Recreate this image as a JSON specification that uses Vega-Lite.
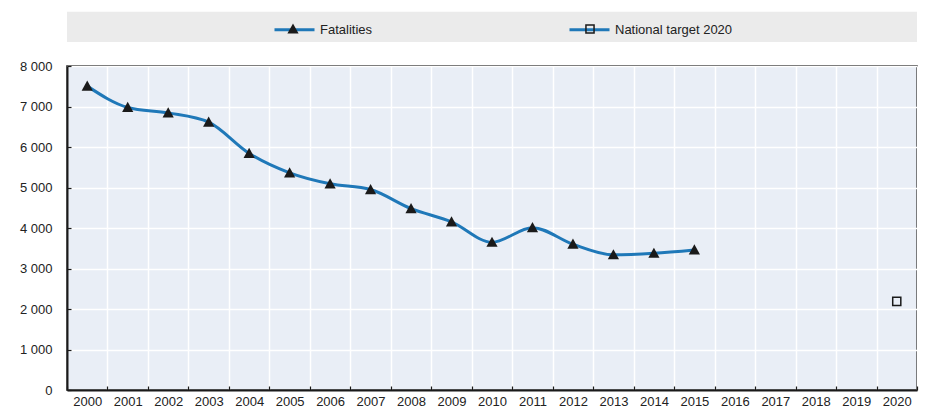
{
  "$schema": "https://vega.github.io/schema/vega-lite/v6.json",
  "width": 850,
  "height": 324,
  "autosize": "none",
  "padding": {"left": 67, "top": 66, "right": 20, "bottom": 22},
  "background": "white",
  "config": {
    "font": "Liberation Sans",
    "view": {"fill": "#e9eef6", "stroke": "#1a1a1a", "strokeWidth": 1.5},
    "axis": {
      "title": null,
      "labelFont": "Liberation Sans",
      "labelFontSize": 13,
      "labelColor": "#222",
      "domainColor": "#1a1a1a",
      "domainWidth": 2,
      "tickColor": "#1a1a1a",
      "tickWidth": 1.2,
      "tickSize": -4,
      "gridColor": "white",
      "gridWidth": 1.5,
      "gridOpacity": 1
    },
    "legend": {
      "title": null,
      "labelFont": "Liberation Sans",
      "labelFontSize": 13,
      "labelColor": "#222",
      "padding": 0
    }
  },
  "data": {
    "values": [
      {"year": "2000", "series": "Fatalities", "marker": "Fatalities", "value": 7503},
      {"year": "2001", "series": "Fatalities", "marker": "Fatalities", "value": 6977},
      {"year": "2002", "series": "Fatalities", "marker": "Fatalities", "value": 6842},
      {"year": "2003", "series": "Fatalities", "marker": "Fatalities", "value": 6613},
      {"year": "2004", "series": "Fatalities", "marker": "Fatalities", "value": 5842},
      {"year": "2005", "series": "Fatalities", "marker": "Fatalities", "value": 5361},
      {"year": "2006", "series": "Fatalities", "marker": "Fatalities", "value": 5091},
      {"year": "2007", "series": "Fatalities", "marker": "Fatalities", "value": 4949},
      {"year": "2008", "series": "Fatalities", "marker": "Fatalities", "value": 4477},
      {"year": "2009", "series": "Fatalities", "marker": "Fatalities", "value": 4152},
      {"year": "2010", "series": "Fatalities", "marker": "Fatalities", "value": 3648},
      {"year": "2011", "series": "Fatalities", "marker": "Fatalities", "value": 4009},
      {"year": "2012", "series": "Fatalities", "marker": "Fatalities", "value": 3600},
      {"year": "2013", "series": "Fatalities", "marker": "Fatalities", "value": 3339},
      {"year": "2014", "series": "Fatalities", "marker": "Fatalities", "value": 3377},
      {"year": "2015", "series": "Fatalities", "marker": "Fatalities", "value": 3459},
      {"year": "2020", "series": "National target 2020", "marker": "National target 2020", "value": 2189}
    ]
  },
  "layer": [
    {
      "data": {"values": [{"part": "legend band"}]},
      "mark": {"type": "rect", "color": "#ebebeb", "clip": false},
      "encoding": {
        "y": {"datum": 8590, "type": "quantitative"},
        "y2": {"datum": 9340}
      }
    },
    {
      "mark": {"type": "line", "interpolate": "monotone", "strokeWidth": 3},
      "encoding": {
        "x": {
          "field": "year",
          "type": "ordinal",
          "scale": {
            "type": "band",
            "paddingInner": 0,
            "paddingOuter": 0,
            "domain": ["2000", "2001", "2002", "2003", "2004", "2005", "2006", "2007", "2008", "2009", "2010", "2011", "2012", "2013", "2014", "2015", "2016", "2017", "2018", "2019", "2020"]
          },
          "axis": {"tickBand": "extent", "labelAngle": 0, "grid": true, "labelPadding": 9}
        },
        "y": {
          "field": "value",
          "type": "quantitative",
          "scale": {"domain": [0, 8000], "nice": false},
          "axis": {
            "values": [0, 1000, 2000, 3000, 4000, 5000, 6000, 7000, 8000],
            "labelExpr": "replace(format(datum.value, ',d'), ',', ' ')",
            "labelPadding": 19,
            "grid": true
          }
        },
        "stroke": {
          "field": "series",
          "type": "nominal",
          "scale": {"range": ["#1f78b8", "#1f78b8"]},
          "legend": {
            "orient": "none",
            "legendX": 206,
            "legendY": -58,
            "direction": "horizontal",
            "symbolType": "stroke",
            "symbolSize": 1600,
            "symbolStrokeWidth": 3,
            "labelOffset": 4,
            "gridAlign": "all",
            "columnPadding": 125
          }
        }
      }
    },
    {
      "mark": {"type": "point", "filled": true, "fill": "#1a1a1a", "fillOpacity": 1, "size": 1600, "strokeWidth": 0, "opacity": 1},
      "encoding": {
        "x": {"field": "year", "type": "ordinal"},
        "y": {"field": "value", "type": "quantitative"},
        "shape": {
          "field": "marker",
          "type": "nominal",
          "scale": {
            "domain": ["Fatalities", "National target 2020"],
            "range": [
              "M-0.28,0.23L0,-0.28L0.28,0.23Z",
              "M-0.24,-0.24H0.24V0.24H-0.24Z M-0.165,-0.165V0.165H0.165V-0.165Z"
            ]
          },
          "legend": {
            "orient": "top",
            "padding": 206,
            "offset": -176,
            "direction": "horizontal",
            "symbolSize": 1600,
            "symbolFillColor": "#1a1a1a",
            "symbolStrokeWidth": 0,
            "labelOffset": 4,
            "labelExpr": "''",
            "gridAlign": "all",
            "columnPadding": 253
          }
        }
      }
    }
  ]
}
